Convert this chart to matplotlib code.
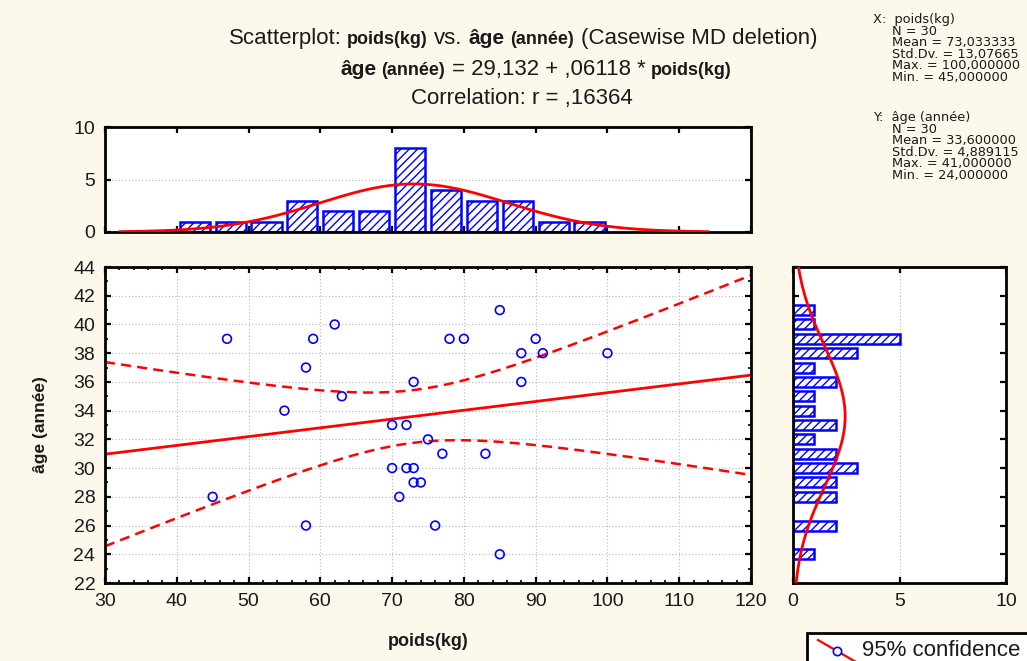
import numpy as np
import matplotlib
matplotlib.use("Agg")
import matplotlib.pyplot as plt
from matplotlib.patches import Rectangle
from matplotlib.lines import Line2D
from matplotlib.ticker import MultipleLocator, NullFormatter

plt.rcParams["font.family"] = ["Liberation Sans", "DejaVu Sans"]

# data (30 cases)
poids = [47, 59, 62, 58, 73, 63, 55, 70, 72, 75, 77, 70, 72, 73, 73,
         74, 45, 71, 58, 76, 78, 85, 80, 90, 88, 91, 100, 88, 83, 85]
age = [39, 39, 40, 37, 36, 35, 34, 33, 33, 32, 31, 30, 30, 30, 29,
       29, 28, 28, 26, 26, 39, 41, 39, 39, 38, 38, 38, 36, 31, 24]

# marginal histograms
poids_bins = [42.5, 47.5, 52.5, 57.5, 62.5, 67.5, 72.5, 77.5, 82.5, 87.5, 92.5, 97.5]
poids_counts = [1, 1, 1, 3, 2, 2, 8, 4, 3, 3, 1, 1]
age_bins = [41, 40, 39, 38, 37, 36, 35, 34, 33, 32, 31, 30, 29, 28, 26, 24]
age_counts = [1, 1, 5, 3, 1, 2, 1, 1, 2, 1, 2, 3, 2, 2, 2, 1]

x_stats = ["N = 30", "Mean = 73,033333", "Std.Dv. = 13,07665",
           "Max. = 100,000000", "Min. = 45,000000"]
y_stats = ["N = 30", "Mean = 33,600000", "Std.Dv. = 4,889115",
           "Max. = 41,000000", "Min. = 24,000000"]

W, H = 1027, 661
BG = "#fdf8ec"
BLUE = "#0000ff"
RED = "#ff0000"
INK = "#1a1a1a"


def fx(px):
    return px / W


def fy(py):
    return 1 - py / H


def normal(v, mu, sd):
    return np.exp(-0.5 * ((v - mu) / sd) ** 2) / (sd * np.sqrt(2 * np.pi))


def style(a):
    for s in a.spines.values():
        s.set_linewidth(2)
        s.set_color("black")
    a.tick_params(which="both", direction="in", top=True, right=True,
                  color="black", labelsize=14, labelcolor=INK, pad=7)
    a.tick_params(which="major", length=4, width=1.6)
    a.tick_params(which="minor", length=2.5, width=1.2)


fig = plt.figure(figsize=(W / 100, H / 100), dpi=100, facecolor=BG)
ax = fig.add_axes([fx(105), fy(583), (751 - 105) / W, (583 - 267) / H])
axt = fig.add_axes([fx(105), fy(232), (751 - 105) / W, (232 - 127) / H])
axr = fig.add_axes([fx(793), fy(583), (1006 - 793) / W, (583 - 267) / H])

x = np.array(poids, dtype=float)
y = np.array(age, dtype=float)
n = len(x)
b, a0 = np.polyfit(x, y, 1)
resid = y - (a0 + b * x)
s = np.sqrt(np.sum(resid ** 2) / (n - 2))
sxx = np.sum((x - x.mean()) ** 2)
t975 = 2.048  # t(28)

# main scatter
xg = np.linspace(30, 120, 300)
fit = a0 + b * xg
half = t975 * s * np.sqrt(1 / n + (xg - x.mean()) ** 2 / sxx)
ax.plot(xg, fit, color=RED, lw=2, zorder=2)
ax.plot(xg, fit + half, color=RED, lw=1.8, ls=(0, (4, 2.5)), zorder=2)
ax.plot(xg, fit - half, color=RED, lw=1.8, ls=(0, (4, 2.5)), zorder=2)
ax.scatter(x, y, s=40, facecolors="none", edgecolors=BLUE, linewidths=1.2, zorder=3)
ax.set_xlim(30, 120)
ax.set_ylim(22, 44)
ax.xaxis.set_major_locator(MultipleLocator(10))
ax.xaxis.set_minor_locator(MultipleLocator(2))
ax.yaxis.set_major_locator(MultipleLocator(2))
ax.yaxis.set_minor_locator(MultipleLocator(1))
ax.grid(True, which="major", color="#b8b8b8", ls=(0, (1, 2)), lw=0.8)
style(ax)

# top histogram
axt.bar(poids_bins, poids_counts, width=4.2, facecolor="white",
        edgecolor=BLUE, hatch="////", lw=1.8, zorder=2)
sdx = x.std(ddof=1)
xc = np.linspace(x.mean() - 3.13 * sdx, x.mean() + 3.13 * sdx, 200)
axt.plot(xc, n * 5 * normal(xc, x.mean(), sdx), color=RED, lw=2, zorder=3)
axt.set_xlim(30, 120)
axt.set_ylim(0, 10)
axt.xaxis.set_major_locator(MultipleLocator(10))
axt.xaxis.set_major_formatter(NullFormatter())
axt.set_yticks([0, 5, 10])
axt.yaxis.grid(True, color="#b8b8b8", ls=(0, (1, 2)), lw=0.8)
style(axt)

# right histogram
axr.barh(age_bins, age_counts, height=0.7, facecolor="white",
         edgecolor=BLUE, hatch="////", lw=1.8, zorder=2)
yc = np.linspace(22, 44, 200)
axr.plot(n * 1 * normal(yc, y.mean(), y.std(ddof=1)), yc, color=RED, lw=2, zorder=3)
axr.set_xlim(0, 10)
axr.set_ylim(22, 44)
axr.set_xticks([0, 5, 10])
axr.yaxis.set_major_locator(MultipleLocator(2))
axr.yaxis.set_major_formatter(NullFormatter())
axr.xaxis.grid(True, color="#b8b8b8", ls=(0, (1, 2)), lw=0.8)
style(axr)

# axis labels
fig.text(fx(428), fy(641), "poids(kg)", fontsize=13, fontweight="bold",
         ha="center", va="center", color=INK)
fig.text(fx(41), fy(425), "âge (année)", fontsize=12.5, fontweight="bold",
         ha="center", va="center", rotation=90, color=INK)

# title lines with mixed weights
renderer = fig.canvas.get_renderer()


def rich_line(xc_px, y_px, parts):
    texts = []
    for txt, bold, size in parts:
        t = fig.text(0, fy(y_px), txt, fontsize=size,
                     fontweight="bold" if bold else "normal",
                     ha="left", va="baseline", color=INK)
        texts.append((t, size))
    widths = [t.get_window_extent(renderer).width for t, _ in texts]
    gaps = [size * 0.30 * 100 / 72 for _, size in texts[1:]]
    total = sum(widths) + sum(gaps)
    cur = xc_px - total / 2
    for i, (t, _) in enumerate(texts):
        t.set_x(fx(cur))
        cur += widths[i] + (gaps[i] if i < len(gaps) else 0)


rich_line(523, 44, [("Scatterplot:", False, 16), ("poids(kg)", True, 13),
                    ("vs.", False, 16), ("âge", True, 15), ("(année)", True, 13),
                    ("(Casewise MD deletion)", False, 16)])
rich_line(536, 75, [("âge", True, 15), ("(année)", True, 13),
                    ("= 29,132 + ,06118 *", False, 16), ("poids(kg)", True, 13)])
rich_line(522, 104, [("Correlation: r = ,16364", False, 16)])

# descriptive statistics
ST = dict(fontsize=9.3, va="center", color=INK, family="DejaVu Sans")
fig.text(fx(873), fy(20), "X:  poids(kg)", **ST)
for i, line in enumerate(x_stats):
    fig.text(fx(892), fy(31.5 + 11.4 * i), line, **ST)
fig.text(fx(873), fy(118), "Y:  âge (année)", **ST)
for i, line in enumerate(y_stats):
    fig.text(fx(892), fy(129.5 + 11.4 * i), line, **ST)

# partial legend box at the bottom right
fig.add_artist(Rectangle((fx(807), fy(668)), 240 / W, 35 / H,
                         transform=fig.transFigure, facecolor="white",
                         edgecolor="black", lw=2, clip_on=False))
fig.add_artist(Line2D([fx(818), fx(856)], [fy(640), fy(662)],
                      transform=fig.transFigure, color=RED, lw=1.6))
fig.add_artist(Line2D([fx(837)], [fy(651)], transform=fig.transFigure,
                      marker="o", ms=6, mfc="white", mec=BLUE, mew=1.2, ls="none"))
fig.text(fx(862), fy(651), "95% confidence", fontsize=16, va="center", color=INK)

fig.savefig("out.png", dpi=100, facecolor=BG)
